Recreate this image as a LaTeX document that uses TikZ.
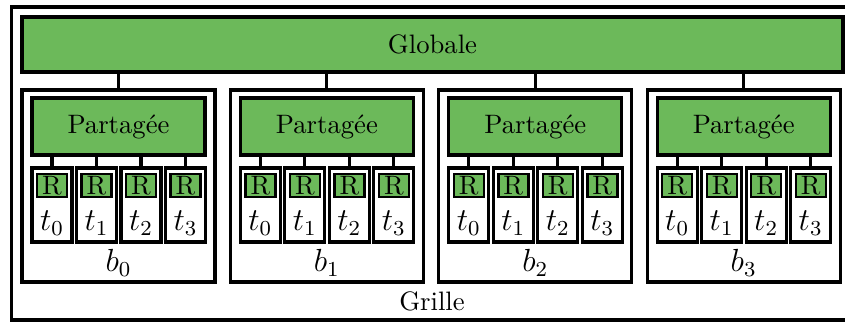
\documentclass[tikz,border=0pt]{standalone}
\definecolor{gr}{RGB}{108,185,90}
\tikzset{
  box/.style={draw, line width=1.15pt, inner sep=0pt, fill=white},
  greenbox/.style={box, fill=gr},
  rbox/.style={greenbox, line width=0.9pt},
  link/.style={line width=1.15pt},
  mathlab/.style={font=\large}
}
\begin{document}
\begin{tikzpicture}[x=0.375pt,y=-0.375pt]
\useasboundingbox (0,0) rectangle (845,322);
\node[box, minimum width=852*0.375pt, minimum height=313*0.375pt] (grid) at (437.5,163.5) {};
\node at (432,301) (grille) {Grille};
\node[greenbox, minimum width=821*0.375pt, minimum height=55*0.375pt] (glob) at (432.5,44.5) {Globale};
\foreach \i in {0,1,2,3}{
  \pgfmathsetmacro{\cx}{118.5+208.4*\i}
  \node[box, minimum width=193*0.375pt, minimum height=192*0.375pt] (blk\i) at (\cx,186) {};
  \node[mathlab] at (\cx,263) (blab\i) {$b_{\i}$};
  \node[greenbox, minimum width=173*0.375pt, minimum height=57*0.375pt] (part\i) at (\cx,126.5) {Partag\'ee};
  \draw[link] (glob.south -| blk\i.north) -- (blk\i.north);
  \foreach \j in {0,1,2,3}{
    \pgfmathsetmacro{\tx}{\cx-66.5+44.5*\j}
    \node[box, minimum width=40*0.375pt, minimum height=74*0.375pt] (th\i\j) at (\tx,205) {};
    \node[rbox, minimum width=30*0.375pt, minimum height=23.5*0.375pt] (r\i\j) at (\tx,185.5) {R};
    \node[mathlab] at (\tx,223) (tl\i\j) {$t_{\j}$};
    \draw[link] (part\i.south -| th\i\j.north) -- (th\i\j.north);
  }
}
\end{tikzpicture}
\end{document}
